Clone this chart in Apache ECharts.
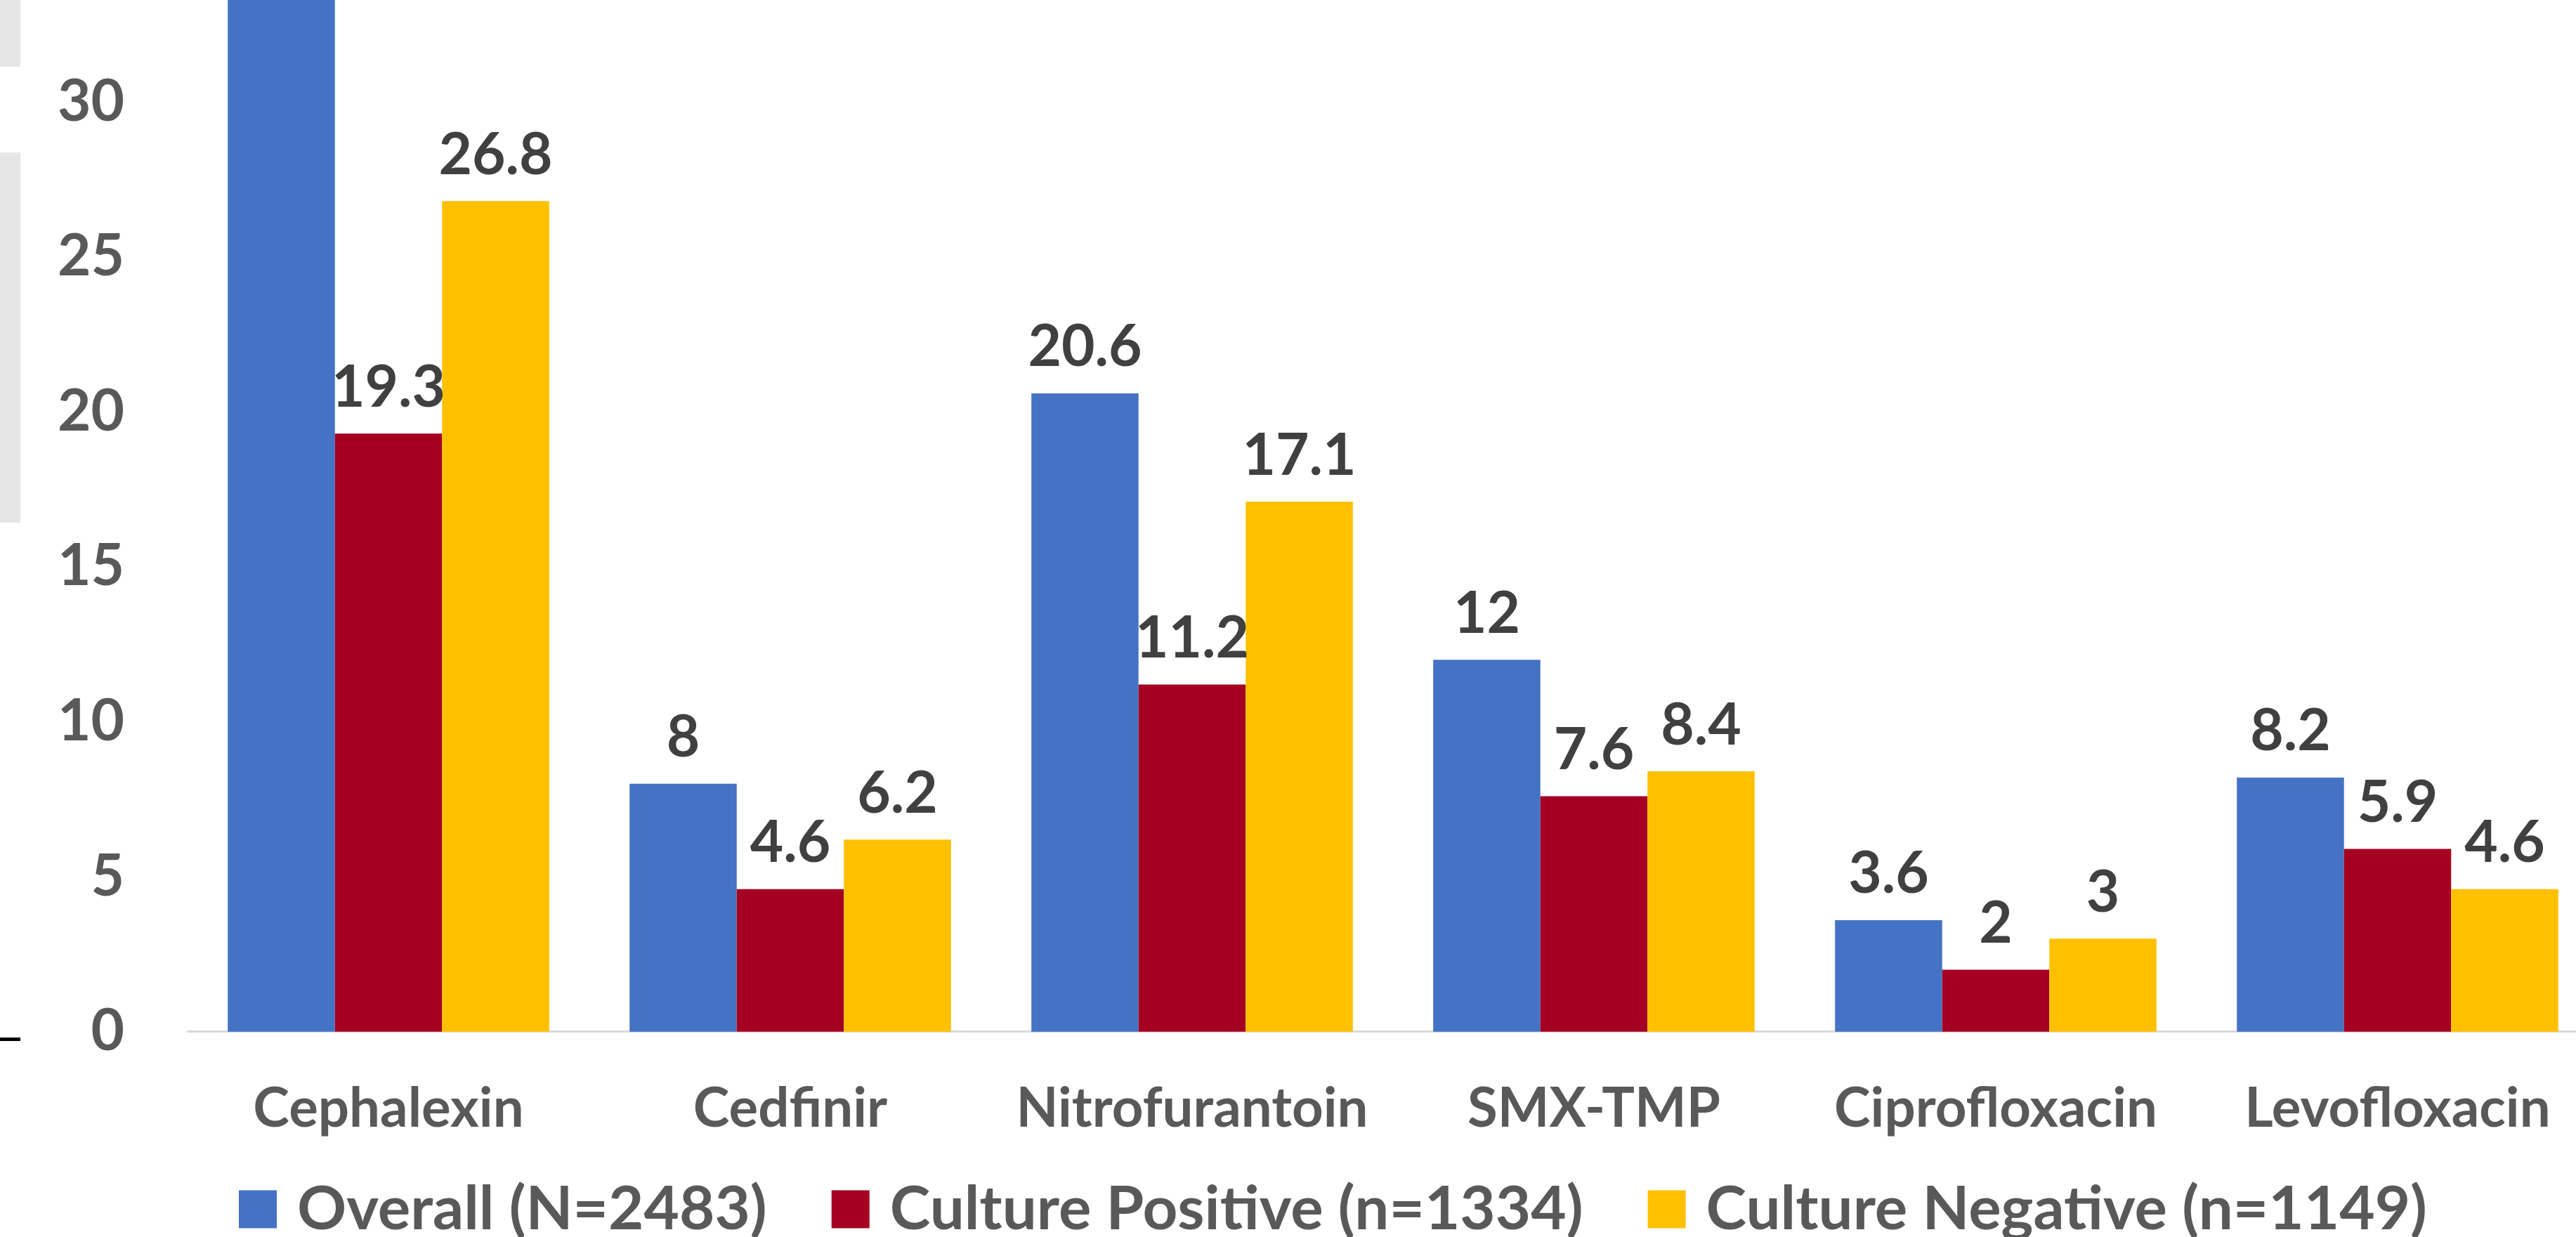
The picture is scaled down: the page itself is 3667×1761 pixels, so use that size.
<!DOCTYPE html>
<html><head><meta charset="utf-8">
<script src="https://cdn.jsdelivr.net/npm/echarts@6/dist/echarts.min.js"></script>
<style>html,body{margin:0;padding:0;width:3667px;height:1761px;overflow:hidden;background:#fff}
#c{position:absolute;left:0;top:-400px;width:3760px;height:2161px}</style>
</head><body><div id="c"></div>
<script>
const categories = ['Cephalexin', 'Cedfinir', 'Nitrofurantoin', 'SMX-TMP', 'Ciprofloxacin', 'Levofloxacin'];
const overall = [35.2, 8, 20.6, 12, 3.6, 8.2];
const culturePositive = [19.3, 4.6, 11.2, 7.6, 2, 5.9];
const cultureNegative = [26.8, 6.2, 17.1, 8.4, 3, 4.6];
const seriesNames = ['Overall (N=2483)', 'Culture Positive (n=1334)', 'Culture Negative (n=1149)'];
const yMin = 0, yMax = 40, yStep = 5;

const colors = ['#4472C4', '#A50021', '#FFC000'];
const FONT = 'Lato';
const chart = echarts.init(document.getElementById('c'), null, {renderer: 'canvas'});
const mk = (name, data, i) => ({
  name, type: 'bar', data, barGap: '0%', barCategoryGap: '20%',
  itemStyle: {color: colors[i]},
  label: {show: true, position: 'top', distance: 24, color: '#404040',
    fontFamily: FONT, fontWeight: 'bold', fontSize: 82}
});
chart.setOption({
  animation: false,
  backgroundColor: '#fff',
  color: colors,
  grid: {left: 267, top: 104, width: 3432, height: 1764.7, containLabel: false},
  xAxis: {type: 'category', data: categories,
    axisLine: {show: true, lineStyle: {color: '#D9D9D9', width: 3}},
    axisTick: {show: false},
    axisLabel: {interval: 0, margin: 71, color: '#595959', fontFamily: FONT, fontWeight: 'bold', fontSize: 78}},
  yAxis: {type: 'value', min: yMin, max: yMax, interval: yStep,
    axisLine: {show: false}, axisTick: {show: false}, splitLine: {show: false},
    axisLabel: {margin: 90, color: '#595959', fontFamily: FONT, fontWeight: 'bold', fontSize: 82}},
  legend: {left: 335, top: 2073, width: 3400, icon: 'rect', itemWidth: 54, itemHeight: 54, itemGap: 92,
    data: seriesNames,
    textStyle: {color: '#595959', fontFamily: FONT, fontWeight: 'bold', fontSize: 87, padding: [0, 0, 0, 24]}},
  graphic: [
    {type: 'rect', left: 0, top: 400, shape: {width: 29, height: 95}, style: {fill: '#E7E6E6'}, silent: true},
    {type: 'rect', left: 0, top: 617, shape: {width: 29, height: 527}, style: {fill: '#E7E6E6'}, silent: true},
    {type: 'rect', left: 0, top: 1877, shape: {width: 29, height: 5}, style: {fill: '#000'}, silent: true}
  ],
  series: [mk(seriesNames[0], overall, 0), mk(seriesNames[1], culturePositive, 1), mk(seriesNames[2], cultureNegative, 2)]
});
</script></body></html>
